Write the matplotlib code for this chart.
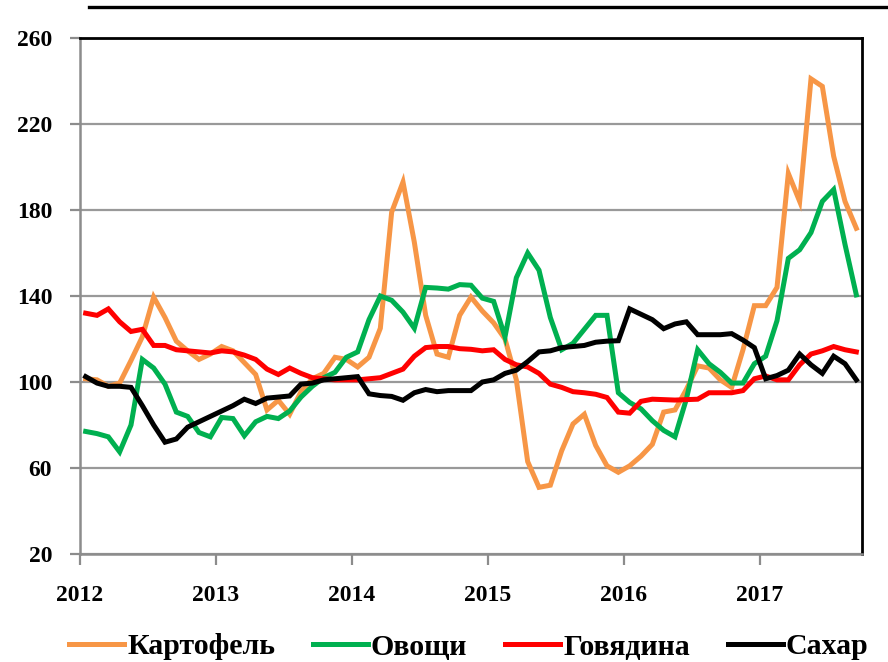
import matplotlib
matplotlib.use("Agg")
import matplotlib.pyplot as plt
from matplotlib.lines import Line2D

# monthly index values, Jan 2012 .. Sep 2017
years = ["2012", "2013", "2014", "2015", "2016", "2017"]

potato = [101.5, 101, 98, 99.5, 110, 121, 139.5, 130, 119, 114.5, 110.5, 113,
          116.5, 114.5, 109, 103.5, 87, 91.5, 85, 95.5, 101.5, 104, 111.5, 110.5,
          107, 111.5, 125, 179, 193, 165, 131, 113, 111.5, 131, 139.5, 133,
          127.5, 120, 101, 63, 51, 52, 68, 80.5, 85, 70.5, 61, 58,
          61, 65.5, 71, 86, 87, 96.5, 107.5, 106.5, 101, 97.5, 115, 135.5,
          135.5, 144, 197, 184, 241, 237.5, 205, 184, 171.5]
veg = [77, 76, 74.5, 67.5, 80, 110.5, 106.5, 99, 86, 84, 76.5, 74.5,
       83.5, 83, 75, 81.5, 84, 83, 86.5, 93, 98, 102, 104.5, 111.5,
       114, 129, 140, 138, 132.5, 125, 144, 143.7, 143.2, 145.3, 145, 139,
       137.5, 121, 148.5, 160, 152, 130, 115, 118, 124.5, 131, 131, 95,
       90.5, 87.5, 82, 77.5, 74.5, 92, 115, 108.5, 104.5, 99.5, 99.5, 108.5,
       112, 128.5, 157.5, 161.5, 169.5, 184, 189.5, 164, 140.5]
beef = [132, 131, 134, 128, 123.5, 124.5, 117, 117, 115, 114.5, 114, 113.5,
        114.5, 114, 112.5, 110.5, 106, 103.5, 106.5, 104, 102, 101.5, 101, 101,
        101, 101.5, 102, 104, 106, 112, 116, 116.5, 116.5, 115.5, 115.2, 114.5,
        115, 110.5, 108, 107, 104, 99, 97.5, 95.5, 95, 94.3, 92.8, 86,
        85.5, 91, 92, 91.8, 91.6, 91.8, 92, 95, 95, 95, 96, 101.5,
        102.8, 101, 101, 108, 113, 114.5, 116.5, 115, 114]
sugar = [102.5, 99.5, 98, 98, 97.5, 89, 80, 72, 73.5, 79, 81.5, 84,
         86.5, 89, 92, 90, 92.5, 93, 93.5, 99, 99.5, 101, 101.5, 102,
         102.5, 94.5, 93.7, 93.3, 91.5, 95, 96.5, 95.5, 96, 96, 96, 100,
         101, 104, 105.5, 109.5, 114, 114.5, 116, 116.5, 117, 118.5, 119, 119.2,
         134, 131.5, 129, 124.8, 127, 128, 122, 122, 122, 122.5, 119.5, 116,
         101.5, 103, 105.5, 113, 108, 104, 112, 108.5, 101]

series = [("Картофель", potato, "#F79646"),
          ("Овощи", veg, "#00B050"),
          ("Говядина", beef, "#FF0000"),
          ("Сахар", sugar, "#000000")]

plt.rcParams['font.family'] = ['Liberation Serif', 'DejaVu Serif']
plt.rcParams['font.weight'] = 'bold'

fig = plt.figure(figsize=(8.88, 6.62), dpi=100)
ax = fig.add_axes([80/888, 1-554/662, (862-80)/888, (554-38)/662])

for name, vals, col in series:
    ax.plot(range(len(vals)), vals, color=col, lw=3.6, label=name,
            solid_joinstyle="miter", zorder=3)

ax.set_xlim(-0.5, len(potato) - 0.5)
ax.set_ylim(20, 260)
ax.set_yticks(range(20, 261, 40))
ax.set_xticks([-0.5 + 12*k for k in range(len(years))])
ax.set_xticklabels(years)
ax.yaxis.grid(True, color="#999999", lw=1.6, zorder=1)
ax.tick_params(axis="both", colors="#8c8c8c", labelcolor="black",
               labelsize=17, width=1.6)
ax.tick_params(axis="x", length=8, pad=14)
ax.tick_params(axis="y", length=7, pad=13)
for s in ("left", "bottom"):
    ax.spines[s].set_color("#8c8c8c"); ax.spines[s].set_linewidth(1.8)
for s in ("top", "right"):
    ax.spines[s].set_color("black"); ax.spines[s].set_linewidth(2)

# border line above the chart
fig.add_artist(Line2D([89/888, 1.0], [1-7/662, 1-7/662], color="black", lw=2.4))

fig.legend(loc="center", bbox_to_anchor=(0.528, 1-647/662), ncol=4, frameon=False,
           fontsize=21.5, handlelength=1.84, columnspacing=1.27, handletextpad=0.1)

fig.savefig("out.png", dpi=100)
